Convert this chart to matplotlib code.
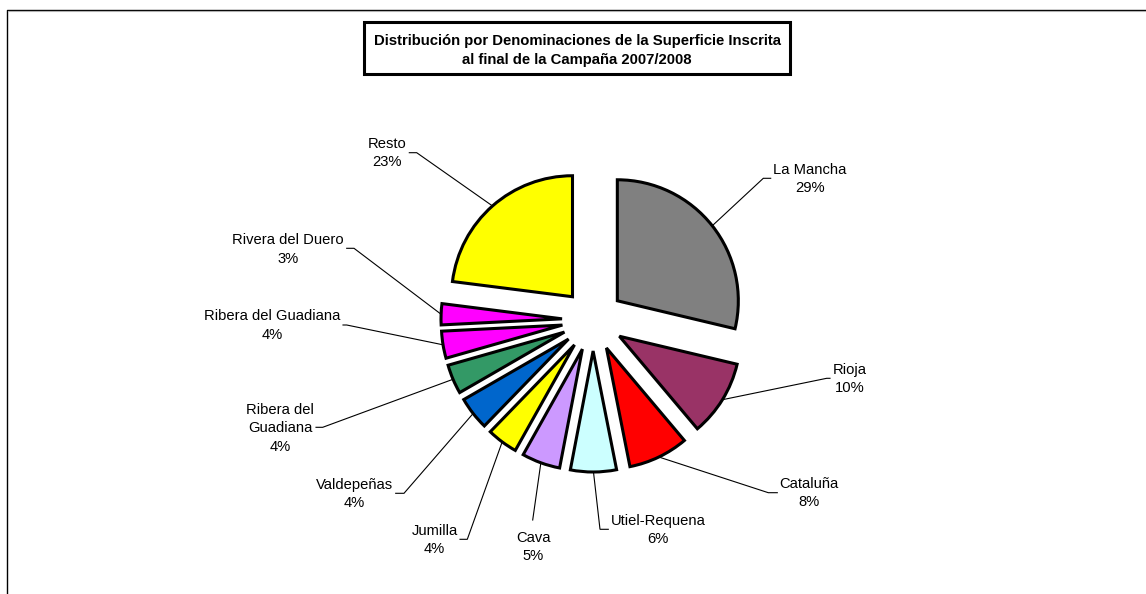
import matplotlib
matplotlib.use("Agg")
import matplotlib.pyplot as plt
from matplotlib.patches import Rectangle
from matplotlib.lines import Line2D
import numpy as np

# ---------------- data ----------------
categories = ["La Mancha", "Rioja", "Cataluña", "Utiel-Requena", "Cava", "Jumilla",
              "Valdepeñas", "Ribera del\nGuadiana", "Ribera del Guadiana",
              "Rivera del Duero", "Resto"]
values = [28.6, 10.1, 8.0, 6.1, 5.1, 4.1, 4.4, 3.9, 3.6, 2.8, 22.9]
colors = ["#808080", "#993366", "#FF0000", "#CCFFFF", "#CC99FF", "#FFFF00",
          "#0066CC", "#339966", "#FF00FF", "#FF00FF", "#FFFF00"]
title = "Distribución por Denominaciones de la Superficie Inscrita\nal final de la Campaña 2007/2008"

# ---------------- layout (pixels from top-left) ----------------
W, H = 1146, 594
CX, CY, R, EXPL = 593, 320, 121, 31
# text centre x, text centre y, elbow x, elbow y, end x
label_layout = [
    (810.0, 179.0, 763.3, 178.3, 770.7),
    (849.3, 379.0, 826.7, 378.3, 830.0),
    (808.8, 493.0, 768.3, 492.7, 777.3),
    (658.0, 530.0, 600.0, 529.3, 608.3),
    (533.3, 546.7, 532.7, 520.0, 532.7),
    (434.5, 540.0, 467.3, 539.3, 460.0),
    (354.5, 493.7, 404.0, 493.3, 395.7),
    (280.0, 428.3, 322.7, 427.3, 316.0),
    (272.0, 325.5, 346.7, 325.0, 343.0),
    (288.0, 249.7, 354.0, 248.3, 346.7),
    (387.0, 152.8, 416.7, 152.7, 409.3),
]

plt.rcParams['font.family'] = ['Liberation Sans', 'DejaVu Sans']

fig = plt.figure(figsize=(W / 100, H / 100), dpi=100)
fig.patch.set_facecolor("white")
ax = fig.add_axes([0, 0, 1, 1])

wedges, _ = ax.pie(values, colors=colors, startangle=90, counterclock=False,
                   radius=R, center=(CX, H - CY), explode=[EXPL] * len(values),
                   wedgeprops=dict(edgecolor="black", linewidth=2.2, joinstyle="miter"),
                   frame=True)
ax.set_xlim(0, W)
ax.set_ylim(0, H)
ax.set_aspect("auto")
ax.axis("off")

total = sum(values)
for w, name, val, lay in zip(wedges, categories, values, label_layout):
    tx, ty, ex, ey, endx = lay
    th = np.deg2rad((w.theta1 + w.theta2) / 2)
    sx = w.center[0] + w.r * np.cos(th)
    sy = w.center[1] + w.r * np.sin(th)
    ax.plot([sx, ex, endx], [sy, H - ey, H - ey], color="black", lw=0.8,
            solid_joinstyle="miter", zorder=0.5)
    pct = 100 * val / total
    ax.text(tx, H - ty, f"{name}\n{pct:.0f}%", ha="center", va="center",
            multialignment="center", fontsize=10.6, linespacing=1.4)

# title box
fig.add_artist(Rectangle((364 / W, 1 - 73.5 / H), (790 - 364) / W, (73.5 - 22) / H,
                         transform=fig.transFigure, facecolor="white",
                         edgecolor="black", lw=2.2))
fig.text(577 / W, 1 - 50.5 / H, title, ha="center", va="center",
         multialignment="center", fontsize=10.7, fontweight="bold", linespacing=1.5)

# outer frame lines
fig.add_artist(Line2D([6.5 / W, 6.5 / W, 1.0], [0.0, 1 - 9.5 / H, 1 - 9.5 / H],
                      transform=fig.transFigure, color="black", lw=1.0))
fig.add_artist(Line2D([7.5 / W, 1.0], [1 - 10.8 / H, 1 - 10.8 / H],
                      transform=fig.transFigure, color="#b0b0b0", lw=0.8))

fig.savefig("out.png", dpi=100, facecolor="white")
